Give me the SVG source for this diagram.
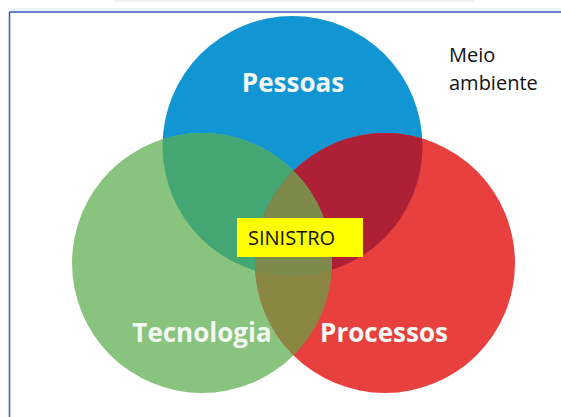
<svg xmlns="http://www.w3.org/2000/svg" width="561" height="417" viewBox="0 0 561 417">
  <style>
    .lbl { font-family: "Open Sans", "Liberation Sans", sans-serif; font-weight: bold; font-size: 26px; fill: #F3F8F3; }
    .txt { font-family: "Open Sans", "Liberation Sans", sans-serif; font-size: 20px; fill: #111111; }
  </style>
  <defs>
    <clipPath id="cB"><circle cx="292.5" cy="146" r="130"/></clipPath>
    <clipPath id="cG"><circle cx="202" cy="263" r="130"/></clipPath>
    <clipPath id="cR"><circle cx="385" cy="263" r="130"/></clipPath>
  </defs>
  <rect x="0" y="0" width="561" height="417" fill="#FFFFFF"/>
  <rect x="115" y="0" width="360" height="2" fill="#F2F2F2"/>
  <rect x="8" y="8" width="553" height="4" fill="#E9F3FA"/>
  <g id="frame" stroke="#3B5BC0" stroke-width="1.5" fill="none">
    <line x1="9.5" y1="12" x2="561" y2="12"/>
    <line x1="9.5" y1="12" x2="9.5" y2="417"/>
  </g>

  <g id="pessoas">
    <circle cx="292.5" cy="146" r="130" fill="#1195D3"/>
  </g>
  <g id="tecnologia">
    <circle cx="202" cy="263" r="130" fill="#89C47E"/>
  </g>
  <g id="processos">
    <circle cx="385" cy="263" r="130" fill="#E8403F"/>
  </g>
  <g id="overlaps">
    <circle cx="202" cy="263" r="130" fill="#44A672" clip-path="url(#cB)"/>
    <circle cx="385" cy="263" r="130" fill="#AE2036" clip-path="url(#cB)"/>
    <circle cx="385" cy="263" r="130" fill="#8A8743" clip-path="url(#cG)"/>
    <g clip-path="url(#cB)">
      <circle cx="385" cy="263" r="130" fill="#7E8A4C" clip-path="url(#cG)"/>
    </g>
  </g>
  <g id="labels">
    <text class="lbl" x="293" y="92" text-anchor="middle">Pessoas</text>
    <text class="lbl" x="202" y="342" text-anchor="middle">Tecnologia</text>
    <text class="lbl" x="384" y="342" text-anchor="middle">Processos</text>
  </g>
  <g id="sinistro">
    <rect x="237" y="218" width="126" height="39" fill="#FFFF00"/>
    <text class="txt" x="248" y="245">SINISTRO</text>
  </g>
  <g id="meio-ambiente">
    <text class="txt" x="449" y="62">Meio</text>
    <text class="txt" x="449" y="90">ambiente</text>
  </g>
</svg>
